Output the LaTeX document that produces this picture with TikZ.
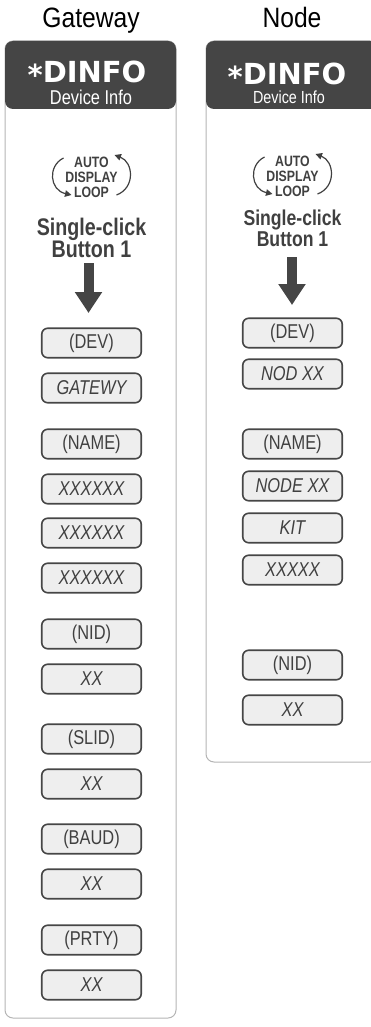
\documentclass[tikz,border=0pt]{standalone}
\usepackage{fontspec}
\newfontfamily\condsf[FakeStretch=0.82]{Liberation Sans}
\newfontfamily\titlesf[FakeStretch=0.88]{Liberation Sans}
\newfontfamily\widesf{DejaVu Sans}
\usetikzlibrary{arrows.meta,calc}
\definecolor{headgray}{HTML}{454545}
\definecolor{boxfill}{HTML}{EEEEEE}
\definecolor{boxline}{HTML}{464646}
\definecolor{panelline}{HTML}{B4B4B4}
\definecolor{labelgray}{HTML}{404040}
\tikzset{
  panel/.style={draw=panelline,line width=1pt,rounded corners=8pt},
  header/.style={fill=headgray,rounded corners=8pt},
  keybox/.style={draw=boxline,fill=boxfill,line width=1.6pt,rounded corners=6pt,minimum width=99.5pt,minimum height=29.5pt,inner sep=0pt,text=labelgray,font=\condsf\fontsize{20}{20}\selectfont},
  valbox/.style={keybox,font=\condsf\itshape\fontsize{20}{20}\selectfont},
  title/.style={anchor=base,inner sep=0pt,font=\titlesf\fontsize{28}{28}\selectfont},
  dinfo/.style={anchor=base,inner sep=0pt,text=white,font=\widesf\bfseries\fontsize{29}{29}\selectfont},
  looptext/.style={align=center,inner sep=0pt,text=labelgray,font=\condsf\bfseries\fontsize{15}{15}\selectfont},
  loopline/.style={draw=labelgray,line width=1.2pt,-{Triangle[length=6.5pt,width=6.5pt]},fill=none},
  bigarrow/.style={draw=headgray,line width=10pt,-{Triangle[length=21pt,width=26pt]}}
}
\begin{document}
\begin{tikzpicture}[x=1pt,y=-1pt]
  \useasboundingbox (0,0) rectangle (371,1027);
  \clip (0,0) rectangle (371,1027);
  % gateway column
  \draw[panel] (5,41) rectangle (176,1018);
  \fill[header] (5,41) rectangle (176,109);
  \node[title] (gw-title) at (91,28) {Gateway};
  \node[dinfo] (gw-dinfo) at (87,83) {\raisebox{-2.5pt}{*}DINFO};
  \node[anchor=base,inner sep=0pt,text=white,font=\condsf\fontsize{20}{20}\selectfont] (gw-devinfo) at (91,105) {Device Info};
  \coordinate (gw-loop) at (91.5,176);
  \node[looptext] (gw-looptext) at (91.5,177) {AUTO\\DISPLAY\\LOOP};
  \draw[loopline] ($(gw-loop)+(-28,-18)$) .. controls ($(gw-loop)+(-44,-10)$) and ($(gw-loop)+(-42,14)$) .. ($(gw-loop)+(-20,19)$);
  \draw[loopline] ($(gw-loop)+(25,19)$) .. controls ($(gw-loop)+(44,12)$) and ($(gw-loop)+(42,-14)$) .. ($(gw-loop)+(23,-21)$);
  \node[align=center,inner sep=0pt,text=labelgray,font=\condsf\bfseries\fontsize{24}{20}\selectfont] (gw-click) at (91.5,238) {Single-click\\Button 1};
  \coordinate (gw-tail) at (88.5,263);
  \coordinate (gw-tip) at (88.5,313);
  \draw[bigarrow] (gw-tail) -- (gw-tip);
  \foreach \yy/\txt [count=\i] in {343/{(DEV)},444/{(NAME)},634/{(NID)},739/{(SLID)},839/{(BAUD)},940/{(PRTY)}}
    \node[keybox] (gw-k\i) at (91.5,\yy) {\txt};
  \foreach \yy/\txt [count=\i] in {388/GATEWY,489/XXXXXX,533/XXXXXX,578/XXXXXX,679/XX,784/XX,884/XX,985/XX}
    \node[valbox] (gw-v\i) at (91.5,\yy) {\txt};
  % node column
  \draw[panel] (206,41) rectangle (378,762);
  \fill[header] (206,41) rectangle (378,109);
  \node[title] (nd-title) at (292,28) {Node};
  \node[dinfo] (nd-dinfo) at (287,85) {\raisebox{-2.5pt}{*}DINFO};
  \node[anchor=base,inner sep=0pt,text=white,font=\condsf\fontsize{17.5}{17.5}\selectfont] (nd-devinfo) at (289,104) {Device Info};
  \coordinate (nd-loop) at (292.5,175);
  \node[looptext] (nd-looptext) at (292.5,176) {AUTO\\DISPLAY\\LOOP};
  \draw[loopline] ($(nd-loop)+(-28,-18)$) .. controls ($(nd-loop)+(-44,-10)$) and ($(nd-loop)+(-42,14)$) .. ($(nd-loop)+(-20,19)$);
  \draw[loopline] ($(nd-loop)+(25,19)$) .. controls ($(nd-loop)+(44,12)$) and ($(nd-loop)+(42,-14)$) .. ($(nd-loop)+(23,-21)$);
  \node[align=center,inner sep=0pt,text=labelgray,font=\condsf\bfseries\fontsize{21.5}{21}\selectfont] (nd-click) at (292.5,228) {Single-click\\Button 1};
  \coordinate (nd-tail) at (292,257);
  \coordinate (nd-tip) at (292,305);
  \draw[bigarrow] (nd-tail) -- (nd-tip);
  \foreach \yy/\txt [count=\i] in {333/{(DEV)},444/{(NAME)},665/{(NID)}}
    \node[keybox] (nd-k\i) at (292.5,\yy) {\txt};
  \foreach \yy/\txt [count=\i] in {374/NOD XX,486/NODE XX,528/KIT,570/XXXXX,710/XX}
    \node[valbox] (nd-v\i) at (292.5,\yy) {\txt};
\end{tikzpicture}
\end{document}
